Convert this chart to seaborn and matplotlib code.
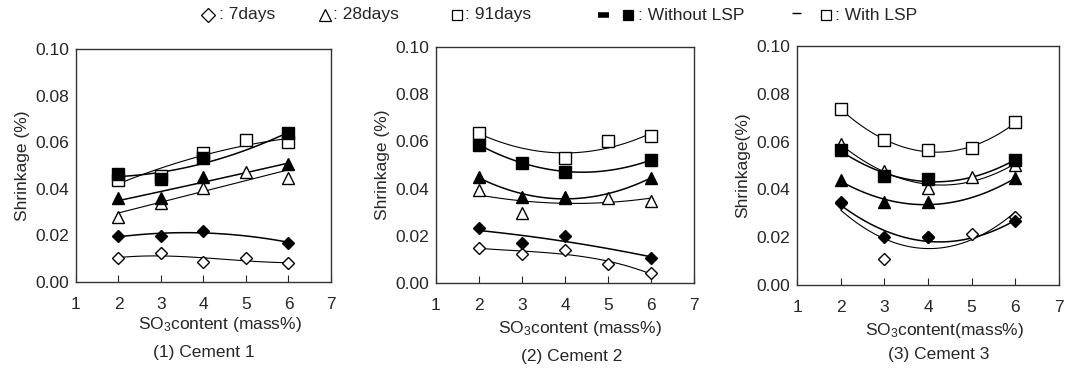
import numpy as np
import pandas as pd
import matplotlib
matplotlib.use("Agg")
import matplotlib.pyplot as plt
from matplotlib.lines import Line2D
import seaborn as sns

# SO3 content levels
x_all = [2, 3, 4, 5, 6]
x_four = [2, 3, 4, 6]
x_no3 = [2, 4, 5, 6]

# Cement 1 (shrinkage %)
c1_7d_with = [0.0102, 0.0123, 0.0087, 0.0102, 0.0080]
c1_7d_without = [0.0198, 0.0198, 0.0219, 0.0169]
c1_28d_with = [0.0281, 0.0341, 0.0403, 0.0474, 0.0446]
c1_28d_without = [0.0360, 0.0360, 0.0450, 0.0507]
c1_91d_with = [0.0438, 0.0453, 0.0553, 0.0610, 0.0603]
c1_91d_without = [0.0464, 0.0441, 0.0532, 0.0639]

# Cement 2
c2_7d_with = [0.0150, 0.0123, 0.0140, 0.0080, 0.0041]
c2_7d_without = [0.0234, 0.0171, 0.0199, 0.0107]
c2_28d_with = [0.0394, 0.0298, 0.0362, 0.0359, 0.0347]
c2_28d_without = [0.0450, 0.0366, 0.0366, 0.0444]
c2_91d_with = [0.0637, 0.0528, 0.0603, 0.0623]
c2_91d_without = [0.0585, 0.0510, 0.0472, 0.0521]

# Cement 3
c3_7d_with = [0.0349, 0.0107, 0.0200, 0.0213, 0.0286]
c3_7d_without = [0.0344, 0.0202, 0.0202, 0.0268]
c3_28d_with = [0.0589, 0.0477, 0.0405, 0.0451, 0.0502]
c3_28d_without = [0.0439, 0.0346, 0.0346, 0.0446]
c3_91d_with = [0.0736, 0.0607, 0.0565, 0.0572, 0.0681]
c3_91d_without = [0.0565, 0.0456, 0.0442, 0.0523]

# (age, with LSP?, x, y, trend-line polynomial degree)
panels = [
    ("(1) Cement 1", "Shrinkage (%)", "SO$_3$content (mass%)", [
        ("7", True, x_all, c1_7d_with, 3), ("7", False, x_four, c1_7d_without, 2),
        ("28", True, x_all, c1_28d_with, 1), ("28", False, x_four, c1_28d_without, 2),
        ("91", True, x_all, c1_91d_with, 2), ("91", False, x_four, c1_91d_without, 2)]),
    ("(2) Cement 2", "Shrinkage (%)", "SO$_3$content (mass%)", [
        ("7", True, x_all, c2_7d_with, 3), ("7", False, x_four, c2_7d_without, 2),
        ("28", True, x_all, c2_28d_with, 2), ("28", False, x_four, c2_28d_without, 2),
        ("91", True, x_no3, c2_91d_with, 2), ("91", False, x_four, c2_91d_without, 2)]),
    ("(3) Cement 3", "Shrinkage(%)", "SO$_3$content(mass%)", [
        ("7", True, x_all, c3_7d_with, 2), ("7", False, x_four, c3_7d_without, 2),
        ("28", True, x_all, c3_28d_with, 2), ("28", False, x_four, c3_28d_without, 2),
        ("91", True, x_all, c3_91d_with, 2), ("91", False, x_four, c3_91d_without, 2)]),
]

sns.set_style("ticks")
plt.rcParams['font.family'] = ['Liberation Sans', 'DejaVu Sans']
plt.rcParams['mathtext.fontset'] = 'custom'
plt.rcParams['mathtext.rm'] = 'Liberation Sans'
plt.rcParams['mathtext.it'] = 'Liberation Sans'

W, H = 1065, 369
fig = plt.figure(figsize=(W / 100, H / 100), dpi=100)

# axes boxes in pixels: left, right, top, bottom
boxes = [(76, 331, 49, 282), (436, 694, 47, 283), (797, 1059, 46, 285)]
xlabel_pos = [(220, 324), (580, 329), (944, 331)]
title_pos = [(204, 352), (572, 357), (939, 354)]

markers = {"7": ("D", 6.5), "28": ("^", 9), "91": ("s", 8.5)}

for i, (title, ylab, xlab, series) in enumerate(panels):
    l, r, t, b = boxes[i]
    ax = fig.add_axes([l / W, 1 - b / H, (r - l) / W, (b - t) / H])
    for age, with_lsp, xs, ys, deg in series:
        df = pd.DataFrame({"x": xs, "y": ys})
        coef = np.polyfit(xs, ys, deg)
        xf = np.linspace(2, 6, 100)
        fit = pd.DataFrame({"x": xf, "y": np.polyval(coef, xf)})
        sns.lineplot(data=fit, x="x", y="y", ax=ax, color="black",
                     lw=0.8 if with_lsp else 1.1, zorder=2)
        m, ms = markers[age]
        ax.plot(df["x"], df["y"], ls="none", marker=m, ms=ms,
                mfc="white" if with_lsp else "black", mec="black", mew=1.0, zorder=3)
    ax.set_xlim(1, 7)
    ax.set_ylim(0, 0.10)
    ax.set_xticks(range(1, 8))
    ax.set_yticks(np.arange(0, 0.101, 0.02))
    ax.yaxis.set_major_formatter(matplotlib.ticker.FormatStrFormatter('%.2f'))
    ax.tick_params(axis="x", direction="in", length=5, width=0.8, pad=11, labelsize=12.5)
    ax.tick_params(axis="y", direction="in", length=0, pad=5, labelsize=12.5)
    for s in ax.spines.values():
        s.set_color("#333333")
        s.set_linewidth(1.0)
    ax.set_xlabel("")
    ax.set_ylabel(ylab, fontsize=12.5, labelpad=4)
    fig.text(xlabel_pos[i][0] / W, 1 - xlabel_pos[i][1] / H, xlab,
             ha="center", va="center", fontsize=12.5)
    fig.text(title_pos[i][0] / W, 1 - title_pos[i][1] / H, title,
             ha="center", va="center", fontsize=12.5)

# legend across the top: symbols drawn as markers in figure coordinates
ly = 1 - 15 / H
legend_marks = [(208, "D", 7, "white"), (325, "^", 9, "white"), (457, "s", 7, "white"),
                (628, "s", 7, "black"), (826, "s", 7, "white")]
for px, m, ms, fc in legend_marks:
    fig.add_artist(Line2D([px / W], [ly], marker=m, ms=ms, mfc=fc, mec="black",
                          mew=0.9, ls="none", transform=fig.transFigure))
fig.add_artist(Line2D([598 / W, 609 / W], [ly, ly], color="black", lw=4,
                      solid_capstyle="butt", transform=fig.transFigure))
fig.add_artist(Line2D([792 / W, 801 / W], [ly + 2 / H, ly + 2 / H], color="black", lw=1,
                      solid_capstyle="butt", transform=fig.transFigure))
legend_texts = [(219, ": 7days"), (333, ": 28days"), (465, ": 91days"),
                (638, ": Without LSP"), (835, ": With LSP")]
for px, txt in legend_texts:
    fig.text(px / W, ly, txt, ha="left", va="center", fontsize=12.5)

fig.savefig("out.png", dpi=100)
